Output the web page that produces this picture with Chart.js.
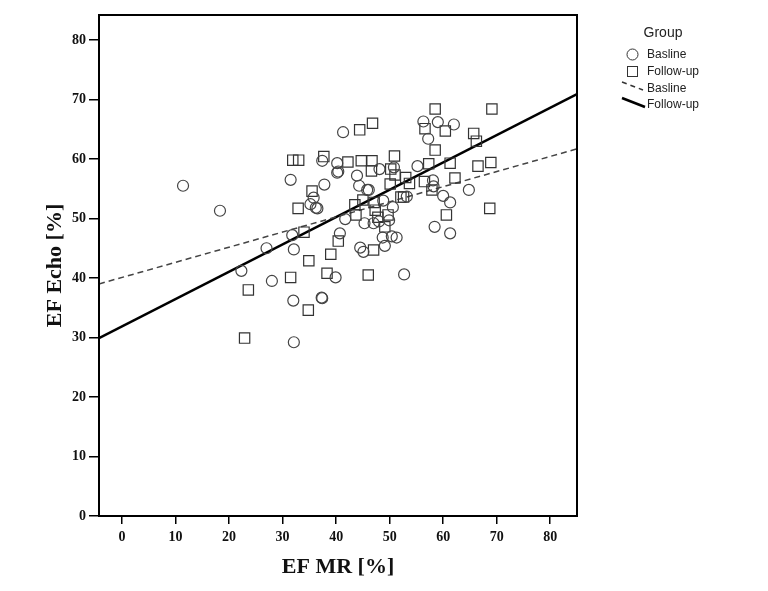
<!DOCTYPE html>
<html>
<head>
<meta charset="utf-8">
<script src="https://cdn.jsdelivr.net/npm/chart.js@4.4.1/dist/chart.umd.min.js"></script>
<style>
  html, body { margin: 0; padding: 0; background: #fff; }
</style>
</head>
<body>
<canvas id="efChart" width="768" height="591"></canvas>
<script>
// Baseline measurements (circles)
const baselineMR = [11.4, 18.3, 22.3, 27.0, 28.0, 31.5, 31.8, 32.1, 32.0, 32.1,
  35.8, 35.2, 36.2, 36.5, 37.3, 37.4, 37.4, 37.8, 39.9, 40.2,
  40.2, 40.4, 40.7, 41.3, 41.7, 43.9, 44.3, 44.5, 45.1, 45.8,
  46.1, 45.3, 47.0, 48.0, 49.9, 48.1, 48.8, 50.6, 48.7, 50.4,
  51.3, 49.1, 50.8, 52.7, 53.2, 55.2, 56.3, 57.2, 58.1, 58.2,
  58.4, 59.0, 60.0, 61.3, 61.3, 62.0, 64.8];
const baselineEcho = [55.5, 51.3, 41.2, 45.0, 39.5, 56.5, 47.2, 44.8, 36.2, 29.2,
  53.5, 52.4, 51.8, 51.7, 36.7, 36.6, 59.7, 55.7, 40.1, 59.3,
  57.7, 57.9, 47.5, 64.5, 49.9, 57.2, 55.5, 45.1, 44.4, 54.8,
  54.8, 49.2, 49.2, 49.5, 49.7, 58.3, 53.0, 51.9, 46.8, 47.0,
  46.8, 45.4, 58.6, 40.6, 53.7, 58.8, 66.3, 63.4, 56.4, 55.4,
  48.6, 66.2, 53.8, 52.7, 47.5, 65.8, 54.8];

// Follow-up measurements (squares)
const followMR = [22.9, 23.6, 31.5, 31.9, 33.0, 32.9, 34.0, 34.8, 34.9, 35.5,
  37.7, 38.3, 39.0, 40.4, 42.2, 43.5, 43.7, 44.4, 44.7, 45.0,
  46.0, 46.6, 46.7, 46.8, 47.0, 47.1, 47.3, 47.8, 49.7, 49.1,
  50.1, 50.2, 50.9, 51.0, 52.1, 52.6, 53.0, 53.7, 56.5, 56.6,
  57.3, 57.9, 58.5, 58.5, 60.4, 60.6, 61.3, 62.2, 65.7, 66.2,
  66.5, 68.7, 68.9, 69.1];
const followEcho = [29.9, 38.0, 40.1, 59.8, 59.8, 51.7, 47.7, 34.6, 42.9, 54.6,
  60.4, 40.8, 44.0, 46.2, 59.5, 52.3, 50.6, 64.9, 59.7, 53.1,
  40.5, 58.0, 59.7, 66.0, 44.7, 52.7, 51.4, 50.2, 50.6, 48.6,
  55.8, 58.3, 60.5, 57.3, 53.6, 53.6, 56.9, 55.9, 56.2, 65.1,
  59.2, 54.8, 61.5, 68.4, 64.7, 50.6, 59.3, 56.8, 64.3, 63.0,
  58.8, 51.7, 59.4, 68.4];

// Fit lines, read at the left and right edge of the plot
const fitMR = [-4.3, 85];
const baselineFit = [39.0, 61.7];
const followFit = [29.9, 70.9];

const xTicks = [0, 10, 20, 30, 40, 50, 60, 70, 80];
const yTicks = [0, 10, 20, 30, 40, 50, 60, 70, 80];

const toPoints = (xs, ys) => xs.map((x, i) => ({ x: x, y: ys[i] }));

const tickFont = { family: '"Liberation Serif", "Times New Roman", serif', size: 14, weight: 'bold' };
const titleFont = { family: '"Liberation Serif", "Times New Roman", serif', size: 22, weight: 'bold' };

// frame round the plot + SPSS style legend on the right
const framePlugin = {
  id: 'frameAndLegend',
  afterDraw(chart) {
    const ctx = chart.ctx;
    const a = chart.chartArea;
    ctx.save();
    ctx.strokeStyle = '#000';
    ctx.lineWidth = 2;
    ctx.strokeRect(a.left, a.top, a.right - a.left, a.bottom - a.top);

    ctx.fillStyle = '#222';
    ctx.textBaseline = 'middle';
    ctx.font = '14px "Liberation Sans", Arial, sans-serif';
    ctx.textAlign = 'center';
    ctx.fillText('Group', 663, 33);

    ctx.font = '12px "Liberation Sans", Arial, sans-serif';
    ctx.textAlign = 'left';
    ctx.strokeStyle = '#333';
    ctx.lineWidth = 1;
    ctx.beginPath();
    ctx.arc(632.5, 54.5, 5.5, 0, Math.PI * 2);
    ctx.stroke();
    ctx.fillText('Basline', 647, 55);
    ctx.strokeRect(627.5, 66.5, 10, 10);
    ctx.fillText('Follow-up', 647, 72);

    ctx.lineWidth = 1.5;
    ctx.setLineDash([5, 4]);
    ctx.beginPath();
    ctx.moveTo(622, 82);
    ctx.lineTo(643, 90);
    ctx.stroke();
    ctx.setLineDash([]);
    ctx.fillText('Basline', 647, 89);

    ctx.strokeStyle = '#000';
    ctx.lineWidth = 2.5;
    ctx.beginPath();
    ctx.moveTo(622, 98);
    ctx.lineTo(645, 107);
    ctx.stroke();
    ctx.fillText('Follow-up', 647, 105);
    ctx.restore();
  }
};

new Chart(document.getElementById('efChart'), {
  type: 'scatter',
  data: {
    datasets: [
      {
        label: 'Basline',
        data: toPoints(baselineMR, baselineEcho),
        pointStyle: 'circle',
        pointRadius: 5.5,
        borderColor: '#444',
        borderWidth: 1.2,
        backgroundColor: 'rgba(0,0,0,0)'
      },
      {
        label: 'Follow-up',
        data: toPoints(followMR, followEcho),
        pointStyle: 'rect',
        pointRadius: 7.3,
        borderColor: '#333',
        borderWidth: 1.2,
        backgroundColor: 'rgba(0,0,0,0)'
      },
      {
        label: 'Basline fit',
        data: toPoints(fitMR, baselineFit),
        showLine: true,
        pointRadius: 0,
        borderColor: '#444',
        borderWidth: 1.5,
        borderDash: [6, 4]
      },
      {
        label: 'Follow-up fit',
        data: toPoints(fitMR, followFit),
        showLine: true,
        pointRadius: 0,
        borderColor: '#000',
        borderWidth: 2.5
      }
    ]
  },
  options: {
    responsive: false,
    animation: false,
    layout: { padding: { left: 0, right: 191, top: 15, bottom: 0 } },
    plugins: {
      legend: { display: false },
      tooltip: { enabled: false }
    },
    scales: {
      x: {
        type: 'linear',
        min: -4.3,
        max: 85,
        afterBuildTicks: (scale) => { scale.ticks = xTicks.map(v => ({ value: v })); },
        afterFit: (scale) => { scale.height = 75; },
        grid: { drawOnChartArea: false, color: '#000', lineWidth: 1.5, tickLength: 8 },
        border: { display: true, color: '#000', width: 2 },
        ticks: { color: '#111', font: tickFont, padding: 5, maxRotation: 0 },
        title: { display: true, text: 'EF MR [%]', color: '#111', font: titleFont, padding: { top: 0, bottom: 10 } }
      },
      y: {
        type: 'linear',
        min: 0,
        max: 84.2,
        afterBuildTicks: (scale) => { scale.ticks = yTicks.map(v => ({ value: v })); },
        afterFit: (scale) => { scale.width = 99; },
        grid: { drawOnChartArea: false, color: '#000', lineWidth: 1.5, tickLength: 10 },
        border: { display: true, color: '#000', width: 2 },
        ticks: { color: '#111', font: tickFont, padding: 3 },
        title: { display: true, text: 'EF Echo [%]', color: '#111', font: titleFont, padding: { top: 42, bottom: 0 } }
      }
    }
  },
  plugins: [framePlugin]
});
</script>
</body>
</html>
